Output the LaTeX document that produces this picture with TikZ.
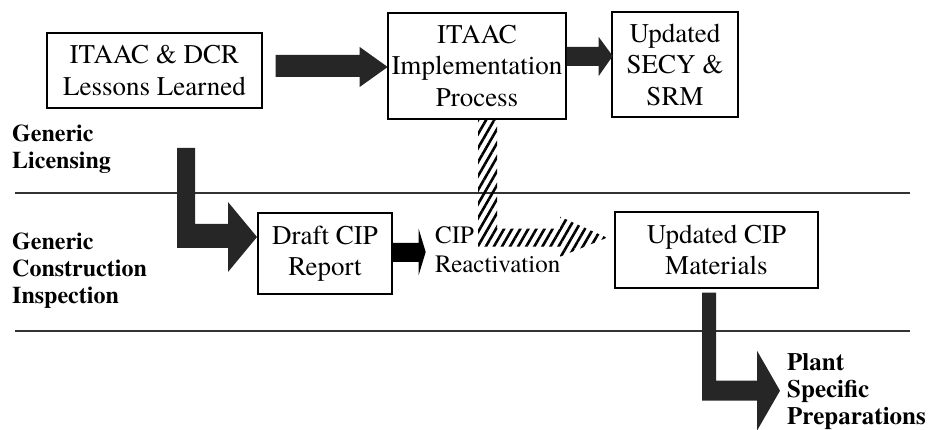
\documentclass[tikz,border=0pt]{standalone}
\usepackage{fontspec}
\setmainfont{texgyretermes}[Extension=.otf, UprightFont=*-regular, BoldFont=*-bold, ItalicFont=*-italic, BoldItalicFont=*-bolditalic]
\usetikzlibrary{calc,patterns.meta}
\begin{document}
\begin{tikzpicture}[x=1pt,y=-1pt,
  box/.style={draw, line width=1.4pt, inner sep=0pt, align=center,
    font=\fontsize{27}{31.5}\selectfont},
  lab/.style={inner sep=0pt, align=left, anchor=north west,
    font=\fontsize{24}{27}\selectfont\bfseries},
  sepline/.style={line width=1.1pt, draw=black!80},
  blockfill/.style={fill=black!85},
  solidfill/.style={fill=black},
  hatch/.style={pattern={Lines[angle=60,distance=7pt,line width=2.6pt]}, pattern color=black}
]
\useasboundingbox (0,0) rectangle (932,430);

% separator lines
\draw[sepline] (15,193) -- (910,193);
\draw[sepline] (15,331) -- (910,331);

% boxes
\node[box, minimum width=215pt, minimum height=75pt] (b1) at (154.5,70.5) {ITAAC \& DCR\\Lessons Learned};
\node[box, minimum width=178pt, minimum height=106pt] (b2) at (477,66) {ITAAC\\Implementation\\Process};
\node[box, minimum width=126pt, minimum height=105pt] (b3) at (675,64.5) {Updated\\SECY \&\\SRM};
\node[box, minimum width=134pt, minimum height=81pt] (dr) at (325,253.5) {Draft CIP\\Report};
\node[box, minimum width=203pt, minimum height=76pt] (ud) at (716.5,250) {Updated CIP\\Materials};

% labels
\node[lab] (gl) at (12,125) {Generic\\Licensing};
\node[lab] (gci) at (12,233) {Generic\\Construction\\Inspection};
\node[lab, font=\fontsize{25}{27}\selectfont\bfseries] (psp) at (787,353) {Plant\\Specific\\Preparations};
\node[inner sep=0pt, align=left, anchor=north west, font=\fontsize{25}{29}\selectfont] (cip) at (435,226.5) {CIP\\Reactivation};

% block arrow: lessons learned -> implementation
\fill[blockfill] ($(b1.east)+(13,-15.5)$) -- ++(84,0) -- ++(0,-8) -- ++(28,20) -- ++(-28,20) -- ++(0,-10) -- ++(-84,0) -- cycle;
% implementation -> SECY
\fill[blockfill] ($(b2.east)+(0,-19)$) -- ++(32,0) -- ++(0,-10) -- ++(14,19) -- ++(-14,20) -- ++(0,-10) -- ++(-32,0) -- cycle;
% draft CIP -> CIP reactivation
\fill[solidfill] ($(dr.east)+(0,-10.5)$) -- ++(26,0) -- ++(0,-14) -- ++(7,23) -- ++(-7,23) -- ++(0,-13) -- ++(-26,0) -- cycle;
% L arrow: generic licensing -> draft CIP
\coordinate (lstart) at (177,148);
\fill[blockfill] (lstart) -- ++(18,0) -- ++(0,76) -- ++(33,0) -- ++(0,-22) -- ++(29,35) -- ++(-29,35) -- ++(0,-24) -- ++(-51,0) -- cycle;
% L arrow: updated CIP -> plant specific
\fill[blockfill] ($(ud.south)+(-14.5,4)$) -- ++(14,0) -- ++(0,88) -- ++(41,0) -- ++(0,-30) -- ++(23,40) -- ++(-23,40) -- ++(0,-30) -- ++(-55,0) -- cycle;
% hatched arrow: implementation -> updated CIP
\fill[hatch] ([xshift=1pt]b2.south) -- ++(19,0) -- ++(0,109) -- ++(63,0) -- ++(0,-12) -- ++(47,21) -- ++(-47,19) -- ++(0,-10) -- ++(-82,0) -- cycle;
\end{tikzpicture}
\end{document}
